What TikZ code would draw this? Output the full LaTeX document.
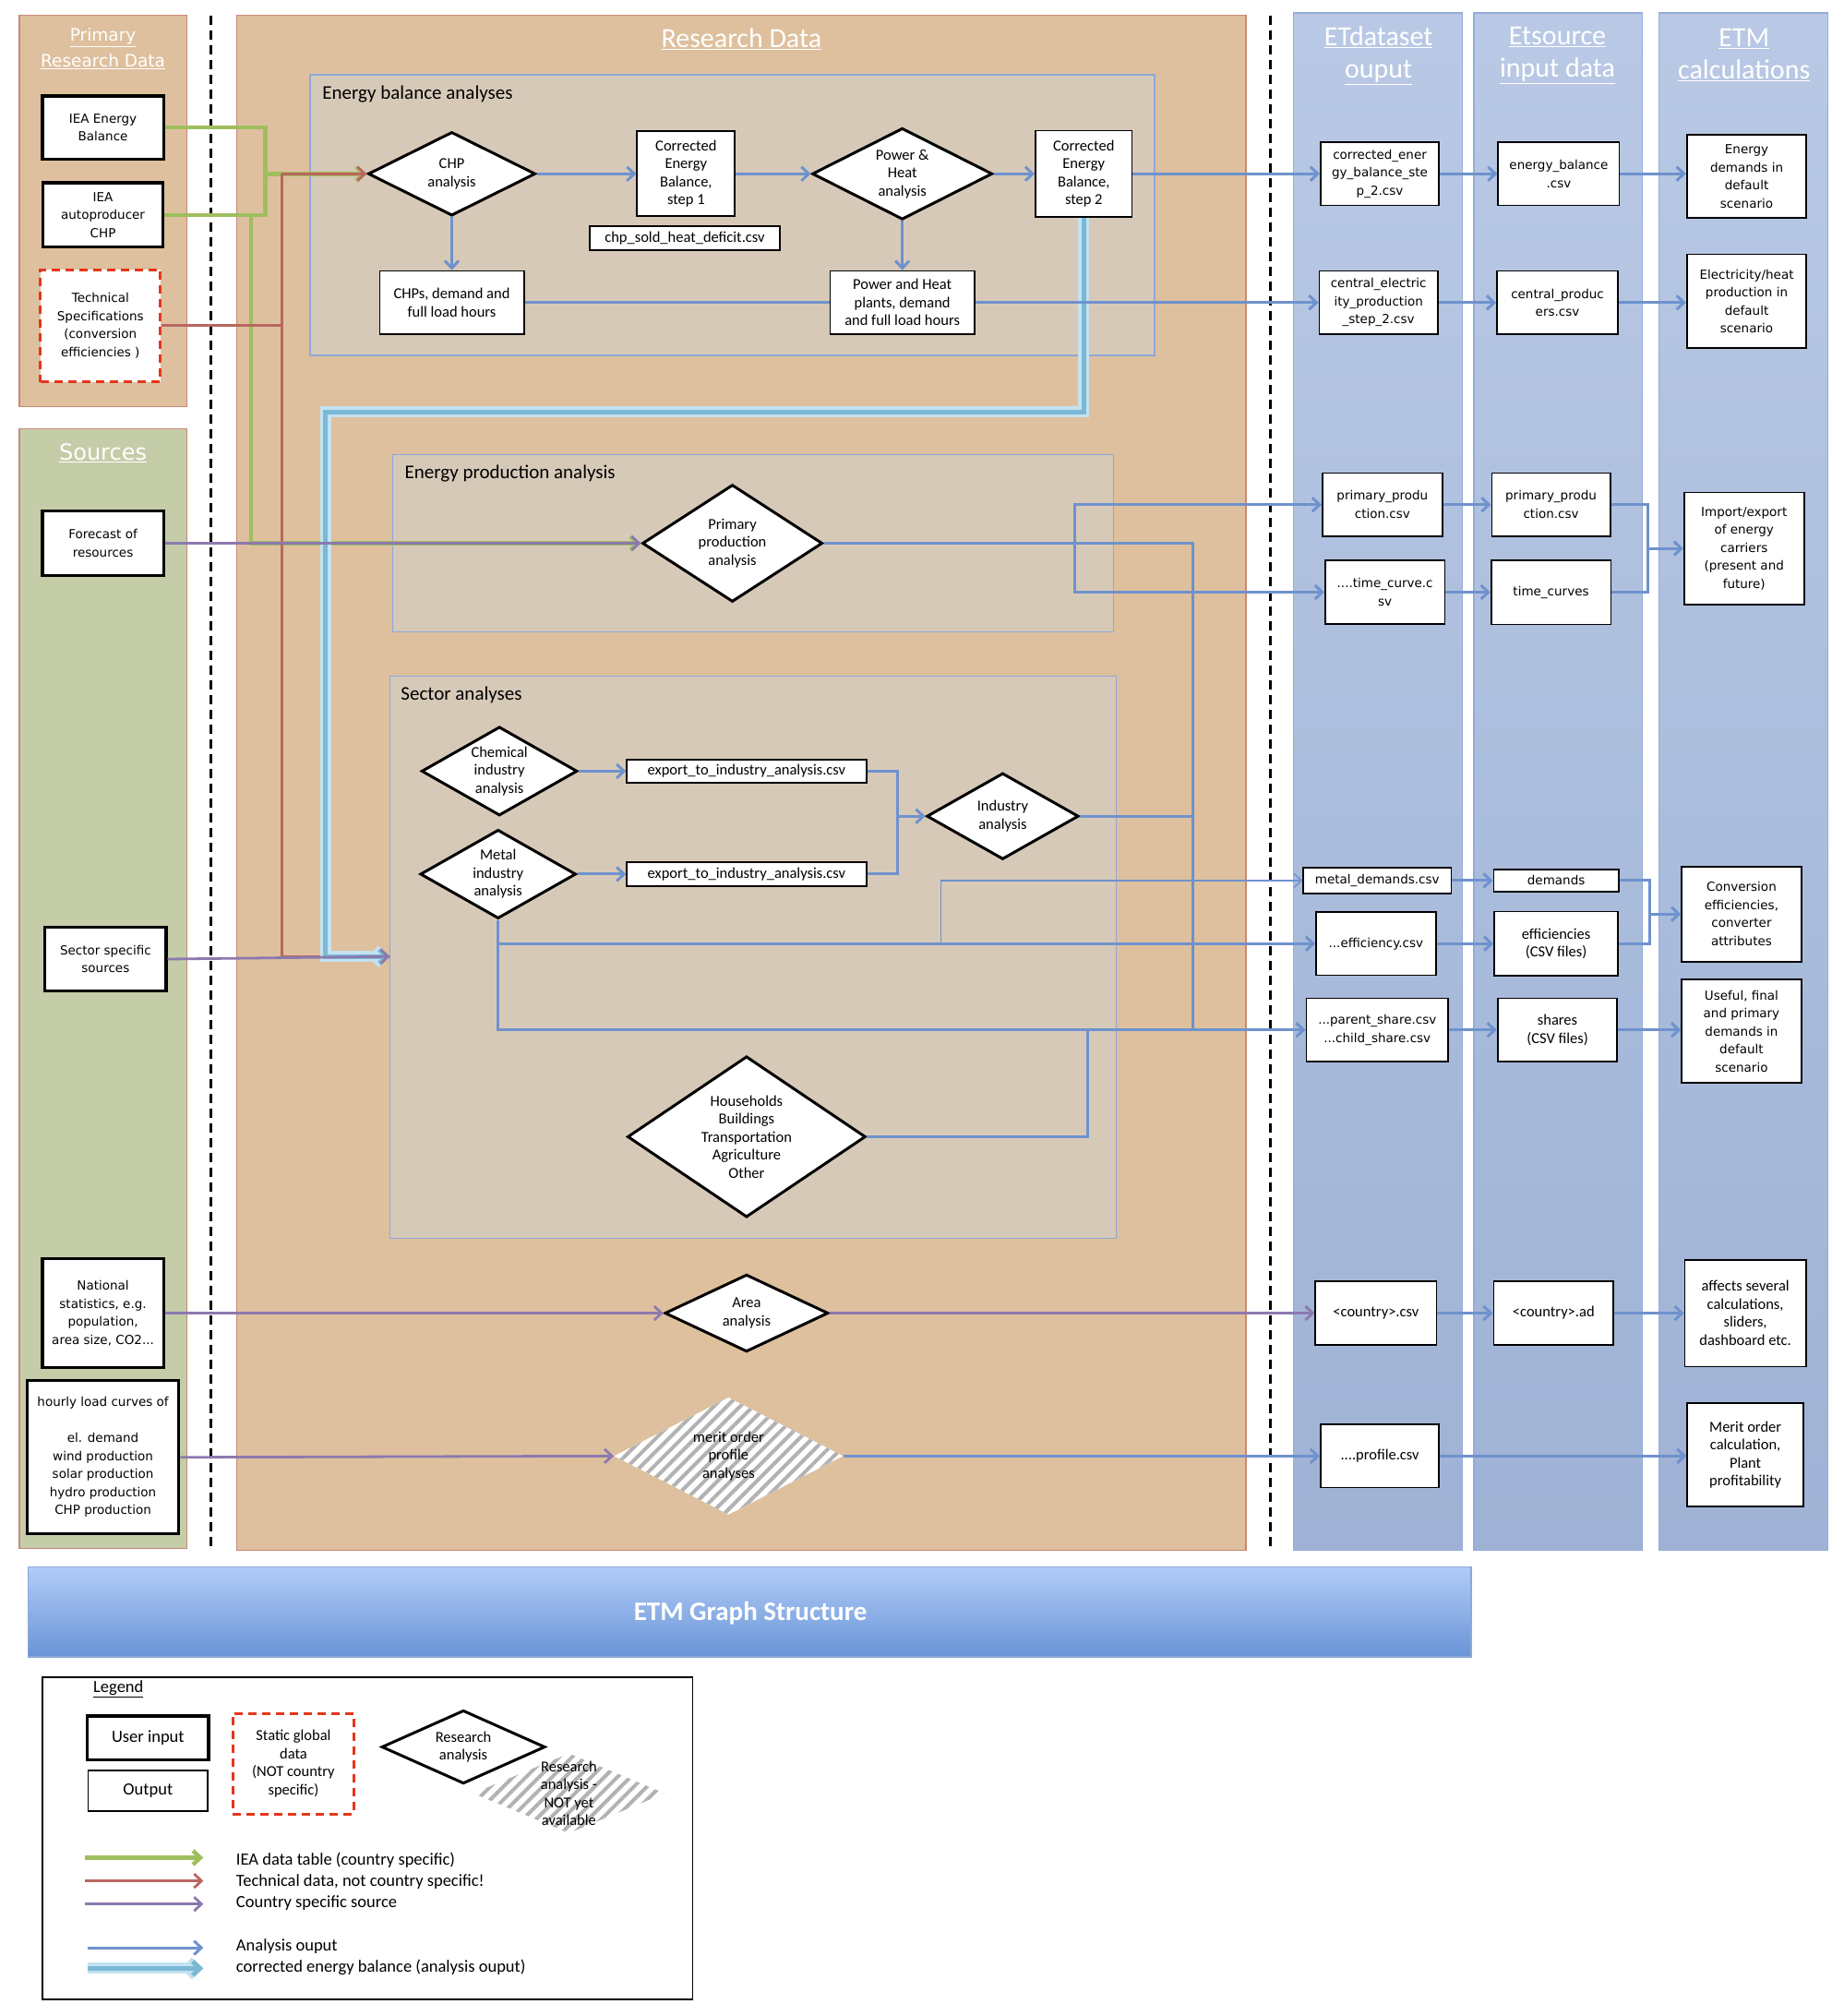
\documentclass[tikz,border=0pt]{standalone}
\usepackage{fontspec}
\setmainfont{Carlito}
\newfontfamily\lucidafam{DejaVu Sans}
\usetikzlibrary{shapes.geometric,arrows.meta,patterns.meta}

\definecolor{tanbg}{HTML}{DEC09E}
\definecolor{sourcebg}{HTML}{C5CDA8}
\definecolor{panelrim}{HTML}{C88878}
\definecolor{innerbg}{HTML}{D7C9B8}
\definecolor{innerrim}{HTML}{8DA8D8}
\definecolor{coltop}{HTML}{B9C9E5}
\definecolor{colbot}{HTML}{9FB2D5}
\definecolor{colrim}{HTML}{93ACDA}
\definecolor{bartop}{HTML}{B1CCF8}
\definecolor{barbot}{HTML}{6A94D6}
\definecolor{flowblue}{HTML}{6E92CD}
\definecolor{ieagreen}{HTML}{9FBE5E}
\definecolor{techred}{HTML}{BA6660}
\definecolor{srcpurple}{HTML}{8C79AF}
\definecolor{cebblue}{HTML}{7AB9D6}
\definecolor{cebglow}{HTML}{C4E2EF}
\definecolor{dashred}{HTML}{E5361C}

\newdimen\pxu \pxu=1.3946pt
\newcommand\calib{\fontsize{16.5}{19.5}\selectfont}
\newcommand\lgfont{\fontsize{18.5}{22}\selectfont}
\newcommand\lucid{\lucidafam\fontsize{13.5}{19.5}\selectfont}

\begin{document}
\begin{tikzpicture}[x=1.3946pt,y=-1.3946pt,
  >={Straight Barb[length=8pt,width=15pt]},
  wh/.style 2 args={minimum width=#1*\pxu,minimum height=#2*\pxu},
  userbox/.style={draw,line width=3.2pt,fill=white,align=center,inner sep=1pt,font=\lucid},
  outbox/.style={draw,line width=1.8pt,fill=white,align=center,inner sep=1pt,font=\calib},
  outlucid/.style={outbox,font=\lucid},
  staticbox/.style={draw=dashred,line width=3pt,dash pattern=on 9pt off 6pt,fill=white,align=center,inner sep=1pt},
  ana/.style={diamond,draw,line width=3pt,fill=white,align=center,inner sep=0pt,font=\calib},
  todo/.style={diamond,fill=white,inner sep=0pt,align=center,font=\calib,
    postaction={pattern={Lines[angle=45,distance=10pt,line width=4pt]},pattern color=gray!60}},
  panel/.style={draw=panelrim,line width=1.3pt},
  subpanel/.style={fill=innerbg,draw=innerrim,line width=1.3pt},
  column/.style={top color=coltop,bottom color=colbot,draw=colrim,line width=1.3pt},
  coltitle/.style={text=white,font=\fontsize{30}{35}\selectfont,align=center},
  subtitle/.style={anchor=west,font=\fontsize{21}{24}\selectfont},
  lgtext/.style={anchor=west,font=\lgfont},
  flow/.style={draw=flowblue,line width=3pt},
  iea/.style={draw=ieagreen,line width=4.5pt},
  tech/.style={draw=techred,line width=2.8pt},
  src/.style={draw=srcpurple,line width=2.8pt},
  ceb/.style={draw=cebblue,line width=5pt,preaction={draw=cebglow,line width=12pt}},
  sep/.style={line width=3pt,dash pattern=on 10pt off 6pt}]

\useasboundingbox (0,0) rectangle (1432,1566);
\fill[white] (0,0) rectangle (1432,1566);

\filldraw[panel,fill=tanbg] (15,12) rectangle (145,316);
\filldraw[panel,fill=sourcebg] (15,333) rectangle (145,1203);
\filldraw[panel,fill=tanbg] (184,12) rectangle (968,1204);
\shade[column] (1005,10) rectangle (1136,1204);
\shade[column] (1145,10) rectangle (1276,1204);
\shade[column] (1289,10) rectangle (1420,1204);
\shade[top color=bartop,bottom color=barbot,draw=innerrim,line width=1.3pt] (22,1217) rectangle (1143,1287);
\draw[line width=1.5pt] (33,1303) rectangle (538,1553);
\draw[sep] (164,12) -- (164,1203);
\draw[sep] (987,12) -- (987,1203);

\filldraw[subpanel] (241,58) rectangle (897,276);
\filldraw[subpanel] (305,353) rectangle (865,491);
\filldraw[subpanel] (303,525) rectangle (867,962);

\node[coltitle,font=\lucidafam\fontsize{18.5}{28}\selectfont] (prtitle) at (80,38) {\underline{Primary}\\\underline{Research Data}};
\node[coltitle,font=\lucidafam\fontsize{24}{28}\selectfont] (srctitle) at (80,352) {\underline{Sources}};
\node[coltitle] (rdtitle) at (576,30) {\underline{Research Data}};
\node[coltitle] (etdtitle) at (1071,43) {\underline{ETdataset}\\\underline{ouput}};
\node[coltitle] (etstitle) at (1210,43) {\underline{Etsource}\\\underline{input data}};
\node[coltitle] (etmtitle) at (1355,43) {\underline{ETM}\\\underline{calculations}};
\node[text=white,font=\bfseries\fontsize{29}{34}\selectfont] (graphtitle) at (583,1253) {ETM Graph Structure};
\node[subtitle] (ebtitle) at (248,73) {Energy balance analyses};
\node[subtitle] (eptitle) at (312,368) {Energy production analysis};
\node[subtitle] (sctitle) at (309,540) {Sector analyses};

\node[userbox,wh={94}{49}] (ieaeb) at (80,99) {IEA Energy\\Balance};
\node[userbox,wh={93}{50}] (autochp) at (80,167) {IEA\\autoproducer\\CHP};
\node[staticbox,wh={93}{87},font=\lucid] (techspec) at (78,253) {Technical\\Specifications\\(conversion\\efficiencies )};
\node[userbox,wh={94}{50}] (forecast) at (80,422) {Forecast of\\resources};
\node[userbox,wh={94}{49}] (sectsrc) at (82,745) {Sector specific\\sources};
\node[userbox,wh={94}{85}] (natstat) at (80,1020) {National\\statistics, e.g.\\population,\\area size, CO2...};
\node[userbox,wh={118}{119}] (hourly) at (80,1132) {hourly load curves of\\\mbox{}\\el. demand\\wind production\\solar production\\hydro production\\CHP production};

\node[ana,wh={130}{65},aspect=2] (chpana) at (351,135) {CHP\\analysis};
\node[outbox,wh={76}{66}] (ceb1) at (533,135) {Corrected\\Energy\\Balance,\\step 1};
\node[outbox,wh={148}{19}] (chpcsv) at (532,185) {chp\_sold\_heat\_deficit.csv};
\node[ana,wh={140}{71},aspect=1.97] (phana) at (701,135) {Power \&\\Heat\\analysis};
\node[outbox,wh={75}{67}] (ceb2) at (842,135) {Corrected\\Energy\\Balance,\\step 2};
\node[outbox,wh={112}{49}] (chpplants) at (351,235) {CHPs, demand and\\full load hours};
\node[outbox,wh={112}{49}] (phplants) at (701,235) {Power and Heat\\plants, demand\\and full load hours};

\node[ana,wh={140}{91},aspect=1.54] (primana) at (569,422) {Primary\\production\\analysis};

\node[ana,wh={121}{69},aspect=1.75] (chemana) at (388,599) {Chemical\\industry\\analysis};
\node[ana,wh={121}{69},aspect=1.75] (metalana) at (387,679) {Metal\\industry\\analysis};
\node[outbox,wh={186}{18}] (expchem) at (580,599) {export\_to\_industry\_analysis.csv};
\node[outbox,wh={186}{19}] (expmetal) at (580,679) {export\_to\_industry\_analysis.csv};
\node[ana,wh={118}{67},aspect=1.76] (indana) at (779,634) {Industry\\analysis};
\node[ana,wh={185}{125},aspect=1.48] (otherana) at (580,883) {Households\\Buildings\\Transportation\\Agriculture\\Other};
\node[ana,wh={127}{60},aspect=2.1] (areaana) at (580,1020) {Area\\analysis};
\node[todo,wh={178}{91},aspect=1.96] (meritana) at (566,1131) {merit order\\profile\\analyses};

\node[outlucid,wh={92}{49}] (cebcsv) at (1072,135) {corrected\_ener\\gy\_balance\_ste\\p\_2.csv};
\node[outlucid,wh={92}{49}] (centcsv) at (1071,235) {central\_electric\\ity\_production\\\_step\_2.csv};
\node[outlucid,wh={93}{49}] (ppcsv) at (1074,392) {primary\_produ\\ction.csv};
\node[outlucid,wh={93}{49}] (tccsv) at (1076,460) {....time\_curve.c\\sv};
\node[outlucid,wh={115}{20}] (metalcsv) at (1070,684) {metal\_demands.csv};
\node[outlucid,wh={93}{49}] (effcsv) at (1069,733) {...efficiency.csv};
\node[outlucid,wh={110}{49}] (sharecsv) at (1070,800) {...parent\_share.csv\\...child\_share.csv};
\node[outbox,wh={94}{49}] (countrycsv) at (1069,1020) {<country>.csv};
\node[outbox,wh={92}{49}] (profilecsv) at (1072,1131) {....profile.csv};

\node[outlucid,wh={94}{49}] (ebcsv) at (1211,135) {energy\_balance\\.csv};
\node[outlucid,wh={94}{49}] (cpcsv) at (1210,235) {central\_produc\\ers.csv};
\node[outlucid,wh={92}{49}] (ppsrc) at (1205,392) {primary\_produ\\ction.csv};
\node[outlucid,wh={93}{50}] (tcsrc) at (1205,460) {time\_curves};
\node[outlucid,wh={97}{17}] (demsrc) at (1209,684) {demands};
\node[outbox,wh={96}{50}] (effsrc) at (1209,733) {efficiencies\\(CSV files)};
\node[outbox,wh={93}{49}] (sharesrc) at (1210,800) {shares\\(CSV files)};
\node[outbox,wh={93}{49}] (countryad) at (1207,1020) {<country>.ad};

\node[outlucid,wh={93}{65}] (endem) at (1357,137) {Energy\\demands in\\default\\scenario};
\node[outlucid,wh={93}{73}] (elheat) at (1357,234) {Electricity/heat\\production in\\default\\scenario};
\node[outlucid,wh={93}{87}] (impexp) at (1355,426) {Import/export\\of energy\\carriers\\(present and\\future)};
\node[outlucid,wh={93}{74}] (convattr) at (1353,710) {Conversion\\efficiencies,\\converter\\attributes};
\node[outlucid,wh={93}{80}] (usefuldem) at (1353,801) {Useful, final\\and primary\\demands in\\default\\scenario};
\node[outbox,wh={94}{83}] (affects) at (1356,1020) {affects several\\calculations,\\sliders,\\dashboard etc.};
\node[outbox,wh={90}{80}] (meritcalc) at (1356,1130) {Merit order\\calculation,\\Plant\\profitability};

\coordinate (ieabus) at (206,135);
\coordinate (ieadrop) at (195,167);
\coordinate (techbus) at (219,135);
\coordinate (cebturn) at (253,320);
\coordinate (sectin) at (303,743);
\coordinate (ppfork) at (835,422);
\coordinate (outjoin) at (927,800);
\coordinate (otherjoin) at (845,800);
\coordinate (metaltap) at (731,733);
\coordinate (expbus) at (697,634);
\coordinate (impbus) at (1280,426);
\coordinate (convbus) at (1282,710);

\draw[iea] (ieaeb.east) -| (ieabus) |- (autochp.east);
\draw[iea,->] (ieabus) -- (chpana.west);
\draw[iea,->] (ieadrop) |- (primana.west);
\draw[tech] (techspec.east) -| (techbus);
\draw[tech,->] (techbus) -- (chpana.west);
\draw[tech] (techbus) |- (sectin);
\draw[ceb,->] (ceb2.south) |- (cebturn) |- (sectin);
\draw[src,->] (forecast.east) -- (primana.west);
\draw[src,->] (sectsrc.east) -- (sectin);
\draw[src,->] (natstat.east) -- (areaana.west);
\draw[src,->] (areaana.east) -- (countrycsv.west);
\draw[src,->] (hourly.east) -- (meritana.west);

\draw[flow,->] (chpana.east) -- (ceb1.west);
\draw[flow,->] (ceb1.east) -- (phana.west);
\draw[flow,->] (phana.east) -- (ceb2.west);
\draw[flow,->] (ceb2.east) -- (cebcsv.west);
\draw[flow,->] (chpana.south) -- (chpplants.north);
\draw[flow,->] (phana.south) -- (phplants.north);
\draw[flow] (chpplants.east) -- (phplants.west);
\draw[flow,->] (phplants.east) -- (centcsv.west);
\draw[flow] (primana.east) -| (outjoin);
\draw[flow,->] (ppfork) |- (ppcsv.west);
\draw[flow,->] (ppfork) |- (tccsv.west);
\draw[flow] (indana.east) -- (indana.east -| outjoin);
\draw[flow] (otherana.east) -| (otherjoin);
\draw[flow,->] (metalana.south) |- (sharecsv.west);
\draw[flow,->] (metalana.south) |- (effcsv.west);
\draw[flow,line width=1.5pt,->] (metaltap) |- (metalcsv.west);
\draw[flow,->] (chemana.east) -- (expchem.west);
\draw[flow,->] (metalana.east) -- (expmetal.west);
\draw[flow] (expchem.east) -| (expbus) |- (expmetal.east);
\draw[flow,->] (expbus) -- (indana.west);
\draw[flow,->] (meritana.east) -- (meritana.east -| profilecsv.west);

\draw[flow,->] (cebcsv.east) -- (ebcsv.west);
\draw[flow,->] (ebcsv.east) -- (ebcsv.east -| endem.west);
\draw[flow,->] (centcsv.east) -- (cpcsv.west);
\draw[flow,->] (cpcsv.east) -- (cpcsv.east -| elheat.west);
\draw[flow,->] (ppcsv.east) -- (ppsrc.west);
\draw[flow,->] (tccsv.east) -- (tcsrc.west);
\draw[flow] (ppsrc.east) -| (impbus) |- (tcsrc.east);
\draw[flow,->] (impbus) -- (impexp.west);
\draw[flow,->] (metalcsv.east) -- (demsrc.west);
\draw[flow,->] (effcsv.east) -- (effsrc.west);
\draw[flow] (demsrc.east) -| (convbus) |- (effsrc.east);
\draw[flow,->] (convbus) -- (convattr.west);
\draw[flow,->] (sharecsv.east) -- (sharesrc.west);
\draw[flow,->] (sharesrc.east) -- (sharesrc.east -| usefuldem.west);
\draw[flow,->] (countrycsv.east) -- (countryad.west);
\draw[flow,->] (countryad.east) -- (affects.west);
\draw[flow,->] (profilecsv.east) -- (profilecsv.east -| meritcalc.west);

\node[font=\lgfont] (lgtitle) at (92,1312) {\underline{Legend}};
\node[userbox,font=\lgfont,wh={94}{34}] (lguser) at (115,1350) {User input};
\node[outbox,font=\lgfont,wh={93}{32}] (lgout) at (115,1391) {Output};
\node[staticbox,font=\calib,wh={94}{78}] (lgstatic) at (228,1370) {Static global\\data\\(NOT country\\specific)};
\node[todo,wh={149}{62},aspect=2.4,label={[font=\calib,align=center]center:Research\\analysis -\\NOT yet\\available}] (lgtodo) at (442,1393) {};
\node[ana,wh={127}{57},aspect=2.23] (lgana) at (360,1357) {Research\\analysis};

\coordinate (lgg1) at (66,1443); \coordinate (lgg2) at (158,1443);
\coordinate (lgr1) at (66,1461); \coordinate (lgr2) at (158,1461);
\coordinate (lgp1) at (66,1479); \coordinate (lgp2) at (158,1479);
\coordinate (lgb1) at (68,1513); \coordinate (lgb2) at (158,1513);
\coordinate (lgc1) at (68,1529); \coordinate (lgc2) at (158,1529);
\draw[iea,->] (lgg1) -- (lgg2);
\draw[tech,->] (lgr1) -- (lgr2);
\draw[src,->] (lgp1) -- (lgp2);
\draw[flow,->] (lgb1) -- (lgb2);
\draw[ceb,->] (lgc1) -- (lgc2);
\node[lgtext] (lgtxtg) at (181,1445) {IEA data table (country specific)};
\node[lgtext] (lgtxtr) at (181,1462) {Technical data, not country specific!};
\node[lgtext] (lgtxtp) at (181,1478) {Country specific source};
\node[lgtext] (lgtxtb) at (181,1512) {Analysis ouput};
\node[lgtext] (lgtxtc) at (181,1528) {corrected energy balance (analysis ouput)};
\end{tikzpicture}
\end{document}
